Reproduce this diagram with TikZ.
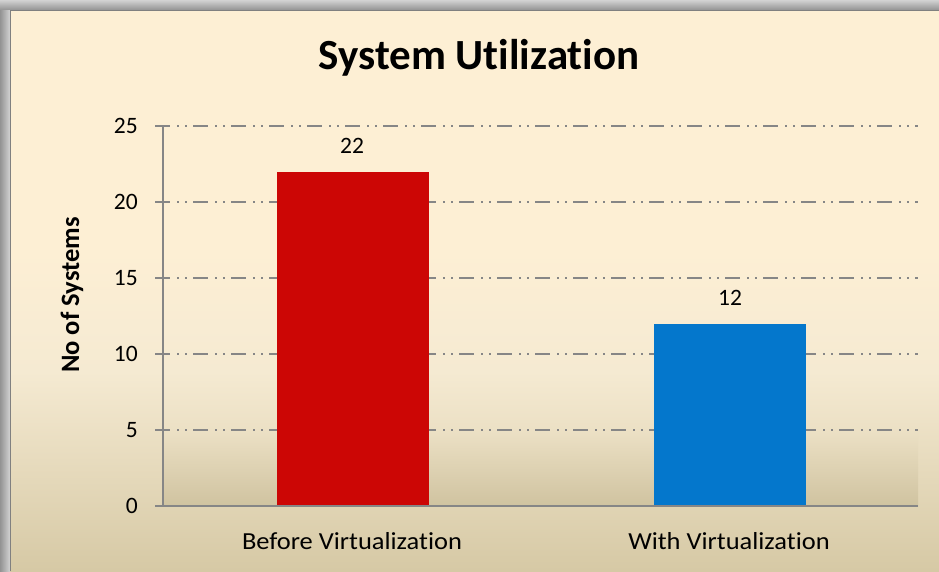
\documentclass[tikz,border=0pt]{standalone}
\usepackage{fontspec}
\setmainfont{Carlito}[Ligatures=NoCommon]
\newfontfamily\widefont{Carlito}[FakeStretch=1.08,Ligatures=NoCommon]
\definecolor{creamtop}{RGB}{253,239,212}
\definecolor{creammid}{RGB}{245,234,210}
\definecolor{tanbot}{RGB}{214,201,165}
\definecolor{gridgray}{RGB}{134,134,134}
\definecolor{barred}{RGB}{204,6,5}
\definecolor{barblue}{RGB}{4,119,204}
\definecolor{framegray}{RGB}{128,128,128}
\tikzset{
  gridline/.style={gridgray,line width=1.8pt,dash pattern=on 15pt off 7pt on 2pt off 6pt on 2pt off 6pt},
  axisline/.style={gridgray,line width=1.8pt},
  ticklabel/.style={font=\fontsize{23.5}{28}\selectfont,anchor=east,inner sep=0pt},
  catlabel/.style={font=\widefont\fontsize{24.5}{28}\selectfont,anchor=center,inner sep=0pt},
  vallabel/.style={font=\fontsize{23.5}{28}\selectfont,anchor=center,inner sep=0pt},
  barbox/.style={anchor=south,minimum width=152pt,inner sep=0pt,outer sep=0pt},
}
\begin{document}
\begin{tikzpicture}[x=1pt,y=1pt]
\useasboundingbox (0,0) rectangle (939,571);
% outer shadow
\fill[gray!60] (0,0) rectangle (939,571);
\shade[left color=gray!85,right color=gray!35] (0,0) rectangle (10,571);
\shade[top color=gray!35,bottom color=gray!85] (0,561) rectangle (939,571);
% chart area background
\fill[creamtop] (10,561) rectangle (939,320);
\shade[top color=creamtop,bottom color=creammid] (10,320.5) rectangle (939,199.5);
\shade[top color=creammid,bottom color=tanbot] (10,200) rectangle (939,0);
\draw[framegray,line width=1.5pt] (10.5,0) -- (10.5,560.5) -- (939,560.5);
% plot area
\shade[top color=tanbot!30!creammid,bottom color=tanbot!97!black] (163,65) rectangle (918,140);
% title
\node[font=\fontsize{43}{50}\selectfont\bfseries] (title) at (479,513) {System Utilization};
% y label
\node[font=\fontsize{26.5}{32}\selectfont\bfseries,rotate=90] (ylab) at (72,276) {No of Systems};
% gridlines
\foreach \v in {5,10,15,20,25}{
  \draw[gridline] (155,65+\v*15.2) -- (918,65+\v*15.2);
}
% bars
\node[barbox,fill=barred,minimum height=334.4pt] (bar1) at (353,65) {};
\node[barbox,fill=barblue,minimum height=182.4pt] (bar2) at (730,65) {};
% axes
\coordinate (o) at (163,65);
\coordinate (ytop) at (163,445);
\coordinate (xl) at (155,65);
\coordinate (xr) at (918,65);
\draw[axisline] (o) -- (ytop);
\draw[axisline] (xl) -- (xr);
\foreach \v in {5,10,15,20,25}{
  \draw[axisline] (155,65+\v*15.2) -- (163,65+\v*15.2);
}
% tick labels
\foreach \v in {0,5,10,15,20,25}{
  \node[ticklabel] (t\v) at (138,65+\v*15.2) {\v};
}
% value labels
\node[vallabel] (v1) at (352,425) {22};
\node[vallabel] (v2) at (730,273) {12};
% category labels
\node[catlabel] (c1) at (352,30) {Before Virtualization};
\node[catlabel] (c2) at (729,30) {With Virtualization};
\end{tikzpicture}
\end{document}
